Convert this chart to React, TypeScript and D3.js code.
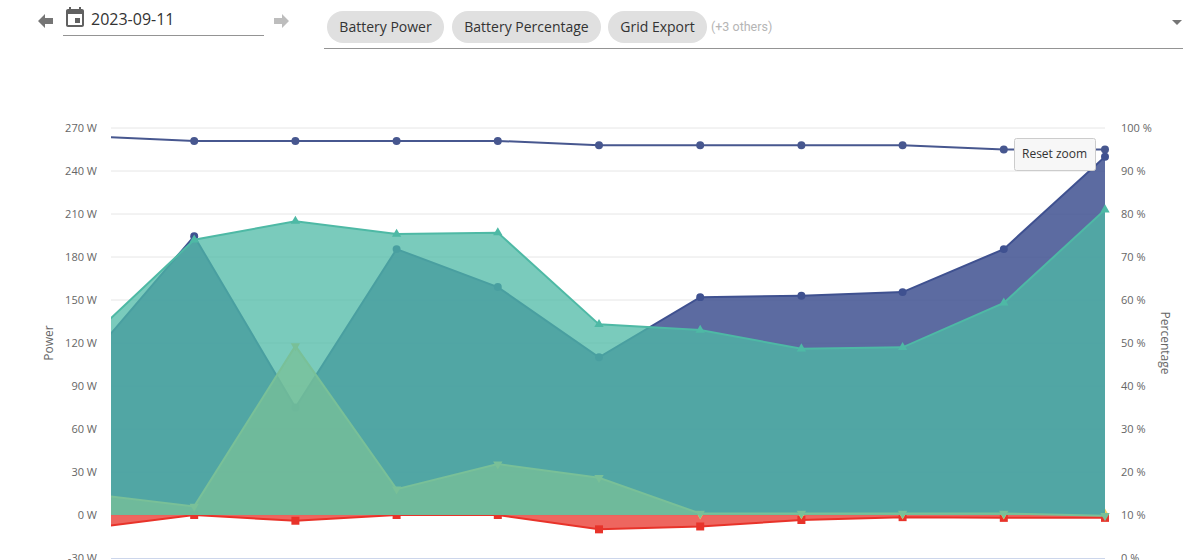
import React from 'react';
import * as d3 from 'd3';

// one slot per sample; the first one sits left of the zoomed window and gets clipped
const slots = [0, 1, 2, 3, 4, 5, 6, 7, 8, 9, 10];
const batteryPercentage = [98, 97, 97, 97, 97, 96, 96, 96, 96, 95, 95];
const batteryPower = [112, 194.5, 75, 185.5, 159, 110, 152, 153, 155.5, 185.5, 250];
const solarPower = [125.5, 192, 205, 196, 197, 133, 129, 116, 117, 148, 213];
const housePower = [14.5, 6, 118, 18, 35.5, 26, 1, 1, 1, 1, -0.5];
const gridExport = [-9, 0, -4, 0, 0, -10, -8, -3.5, -1.5, -2, -2];
const otherPower: (number | null)[] = [null, null, null, null, null, null, 0.5, 0.5, 0.5, 0.5, 1];
const powerTicks = [-30, 0, 30, 60, 90, 120, 150, 180, 210, 240, 270];
const percentTicks = [0, 10, 20, 30, 40, 50, 60, 70, 80, 90, 100];
const chips = ['Battery Power', 'Battery Percentage', 'Grid Export'];

const width = 1183;
const height = 560;
const plotLeft = 111;
const plotRight = 1105;
const plotTop = 128;
const plotBottom = 558;
const font = '"Open Sans", sans-serif';

const x = d3.scaleLinear().domain([1, 10]).range([194.2, plotRight]);
const yPower = d3.scaleLinear().domain([-30, 270]).range([plotBottom, plotTop]);
const yPercent = d3.scaleLinear().domain([0, 100]).range([plotBottom, plotTop]);

function Series({ values, y, color, opacity, symbol, size, flip, area, line = true }: any) {
  const pts = slots.map((s, i) => ({ s, v: values[i] })).filter(d => d.v !== null);
  const lineGen = d3.line<any>().x(d => x(d.s)).y(d => y(d.v));
  const areaGen = d3.area<any>().x(d => x(d.s)).y0(y(0)).y1(d => y(d.v));
  const marker = d3.symbol().type(symbol).size(size)() as string;
  return (
    <g>
      <g clipPath="url(#plot-clip)">
        {area && <path d={areaGen(pts) as string} fill={color} fillOpacity={opacity} />}
        {line && <path d={lineGen(pts) as string} fill="none" stroke={color} strokeWidth={2} />}
      </g>
      {pts.filter(d => x(d.s) >= plotLeft).map(d => (
        <path
          key={d.s}
          d={marker}
          fill={color}
          transform={`translate(${x(d.s)},${y(d.v)})${flip ? ' rotate(180)' : ''}`}
        />
      ))}
    </g>
  );
}

export default function App() {
  const chipBoxes = [
    { x: 327, w: 117 },
    { x: 452, w: 149 },
    { x: 608, w: 99 },
  ];
  return (
    <div style={{ position: 'absolute', left: 0, top: 0, width, height, overflow: 'hidden', background: '#fff' }}>
      <svg width={width} height={height} style={{ display: 'block' }} fontFamily={font}>
        <defs>
          <clipPath id="plot-clip">
            <rect x={plotLeft} y={plotTop - 10} width={plotRight - plotLeft} height={plotBottom - plotTop + 10} />
          </clipPath>
        </defs>

        {/* date picker */}
        <path d="M38 21 L45 14 L45 18 L53 18 L53 24 L45 24 L45 28 Z" fill="#757575" />
        <path
          transform="translate(63,6)"
          fill="#616161"
          d="M17 12h-5v5h5v-5zM16 1v2H8V1H6v2H5c-1.11 0-1.99.9-1.99 2L3 19c0 1.1.89 2 2 2h14c1.1 0 2-.9 2-2V5c0-1.1-.9-2-2-2h-1V1h-2zm3 18H5V8h14v11z"
        />
        <text x={91} y={25} fontSize={16} fill="#333">2023-09-11</text>
        <line x1={63} x2={264} y1={35.5} y2={35.5} stroke="#949494" />
        <path d="M289 21 L282 14 L282 18 L274 18 L274 24 L282 24 L282 28 Z" fill="#bdbdbd" />

        {/* series picker */}
        {chips.map((c, i) => (
          <g key={c}>
            <rect x={chipBoxes[i].x} y={11} width={chipBoxes[i].w} height={32} rx={16} fill="#e0e0e0" />
            <text x={chipBoxes[i].x + chipBoxes[i].w / 2} y={32} fontSize={14} fill="#333" textAnchor="middle">{c}</text>
          </g>
        ))}
        <text x={711} y={31} fontSize={12.5} fill="#b5b5b5" fontFamily="Roboto, sans-serif">(+3 others)</text>
        <path d="M1172 20 L1182 20 L1177 25 Z" fill="#757575" />
        <line x1={324} x2={1183} y1={48.5} y2={48.5} stroke="#949494" />

        {/* axes */}
        {powerTicks.map(t => (
          <g key={t}>
            {t !== -30 && (
              <line x1={plotLeft} x2={plotRight} y1={yPower(t)} y2={yPower(t)} stroke="#e6e6e6" />
            )}
            <text x={97} y={yPower(t) + 4} fontSize={11} fill="#666" textAnchor="end">{`${t} W`}</text>
          </g>
        ))}
        {percentTicks.map(t => (
          <text key={t} x={1121} y={yPercent(t) + 4} fontSize={11} fill="#666">{`${t} %`}</text>
        ))}
        <line x1={plotLeft} x2={plotRight} y1={plotBottom + 0.5} y2={plotBottom + 0.5} stroke="#ccd6eb" />
        <text transform="translate(53,343) rotate(-90)" fontSize={12} fill="#666" textAnchor="middle">Power</text>
        <text transform="translate(1161,343) rotate(90)" fontSize={12} fill="#666" textAnchor="middle">Percentage</text>

        {/* series, in the stacking order of the reference */}
        <Series values={gridExport} y={yPower} color="#e8332a" opacity={0.75} symbol={d3.symbolSquare} size={64} area />
        <Series values={otherPower} y={yPower} color="#f4d35e" symbol={d3.symbolDiamond} size={30} line={false} />
        <Series values={batteryPercentage} y={yPercent} color="#47578f" symbol={d3.symbolCircle} size={50} />
        <Series values={batteryPower} y={yPower} color="#3f5190" opacity={0.85} symbol={d3.symbolCircle} size={50} area />
        <Series values={solarPower} y={yPower} color="#4eb9a5" opacity={0.75} symbol={d3.symbolTriangle} size={38} area />
        <Series values={housePower} y={yPower} color="#79c098" opacity={0.75} symbol={d3.symbolTriangle} size={38} flip area />

        {/* reset zoom button */}
        <rect x={1014.5} y={138.5} width={81} height={32} rx={2} fill="#f7f7f7" stroke="#cccccc" />
        <text x={1022} y={158} fontSize={12} fill="#333">Reset zoom</text>
      </svg>
    </div>
  );
}
